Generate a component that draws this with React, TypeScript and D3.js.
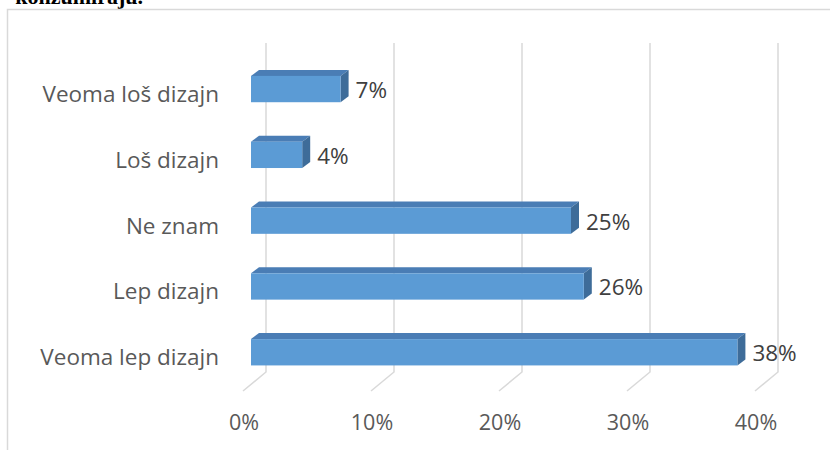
import React from "react";
import * as d3 from "d3";

const categories = ["Veoma loš dizajn", "Loš dizajn", "Ne znam", "Lep dizajn", "Veoma lep dizajn"];
const values = [7, 4, 25, 26, 38];
const ticks = [0, 10, 20, 30, 40];
const title = "konzumiraju.";

const W = 830;
const H = 450;

export default function App() {
  const x = d3.scaleLinear().domain([0, 40]).range([251, 763]);
  const y = d3.scaleBand<string>().domain(categories).range([43, 372]).padding(0);
  const bw = y.bandwidth();
  const dx = 8;
  const dy = -6;
  const wallOff = 15;
  const wallTop = 43;
  const wallBottom = 372;
  const floorDx = -23;
  const floorDy = 19;
  const font = "'Open Sans', sans-serif";

  return (
    <svg width={W} height={H} style={{ position: "absolute", left: 0, top: 0, background: "#fff" }}>
      <text x={143} y={4} textAnchor="end" fontFamily="'Liberation Serif', serif" fontSize={22} fontWeight="bold" fill="#000">
        {title}
      </text>
      <path d={`M7.5,${H + 5} L7.5,9.5 L${W + 5},9.5`} fill="none" stroke="#d9d9d9" strokeWidth={1.5} />
      {ticks.map((t) => {
        const gx = x(t) + wallOff;
        return (
          <path
            key={"g" + t}
            d={`M${gx},${wallTop} L${gx},${wallBottom} L${gx + floorDx},${wallBottom + floorDy}`}
            fill="none"
            stroke="#d9d9d9"
            strokeWidth={1.5}
          />
        );
      })}
      {categories.map((c, i) => {
        const v = values[i];
        const x0 = x(0);
        const x1 = x(v);
        const yt = (y(c) as number) + bw * 0.5;
        const h = bw * 0.4;
        return (
          <g key={c}>
            <polygon
              points={`${x0},${yt} ${x0 + dx},${yt + dy} ${x1 + dx},${yt + dy} ${x1},${yt}`}
              fill="#4a7db5"
            />
            <polygon
              points={`${x1},${yt} ${x1 + dx},${yt + dy} ${x1 + dx},${yt + h + dy} ${x1},${yt + h}`}
              fill="#3e6c99"
            />
            <rect x={x0} y={yt} width={x1 - x0} height={h} fill="#5b9bd5" />
            <text x={x1 + dx + 7} y={yt + 22} fontFamily={font} fontSize={22.5} fill="#404040">
              {v + "%"}
            </text>
            <text x={219} y={yt + 26} textAnchor="end" fontFamily={font} fontSize={22.5} fill="#595959">
              {c}
            </text>
          </g>
        );
      })}
      {ticks.map((t) => (
        <text key={"t" + t} x={x(t) - 7} y={430} textAnchor="middle" fontFamily={font} fontSize={21.5} fill="#595959">
          {t + "%"}
        </text>
      ))}
    </svg>
  );
}
